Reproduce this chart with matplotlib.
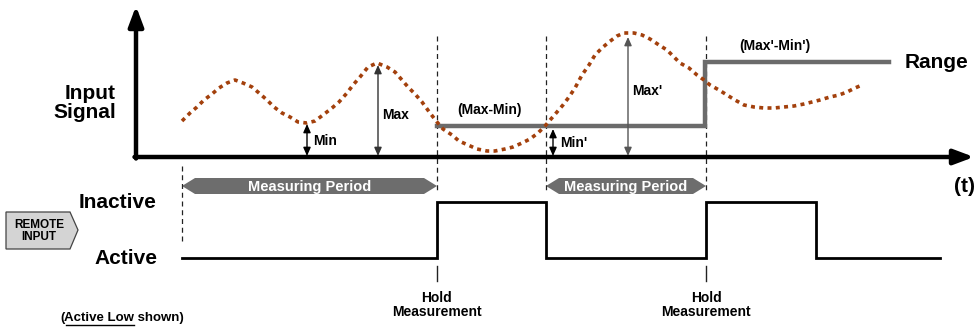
import matplotlib
matplotlib.use("Agg")
import matplotlib.pyplot as plt
from matplotlib.patches import Polygon

FONT = ['Liberation Sans Narrow', 'Liberation Sans', 'DejaVu Sans']
plt.rcParams['font.family'] = FONT
plt.rcParams['font.weight'] = 'bold'

# ---- data (diagram units: x = time, y = drawing height, origin top-left) ----
signal_x = [182, 190, 197, 204, 212, 219, 227, 235, 243, 252, 259, 267, 274, 282,
            290, 298, 307, 315, 323, 332, 339, 347, 353, 360, 368, 377, 387, 395,
            402, 408, 415, 422, 430, 437, 443, 452, 459, 468, 477, 487, 495, 505,
            513, 522, 530, 538, 545, 551, 557, 563, 569, 575, 582, 589, 595, 602,
            609, 617, 624, 634, 642, 650, 659, 667, 674, 680, 689, 697, 704, 710,
            719, 727, 735, 744, 754, 764, 774, 784, 794, 804, 812, 820, 830, 839,
            847, 855, 862]
signal_y = [121, 113, 107, 100, 94, 88, 83, 80, 83, 87, 93, 100, 107, 113,
            117, 122, 123, 121, 115, 108, 102, 93, 85, 77, 67, 63, 67, 72,
            80, 87, 94, 102, 113, 122, 129, 135, 141, 145, 149, 151, 151, 149,
            147, 143, 139, 133, 126, 119, 112, 105, 97, 88, 75, 65, 55, 48,
            42, 36, 33, 33, 35, 39, 45, 50, 57, 63, 68, 75, 80, 85,
            90, 95, 100, 105, 107, 108, 108, 107, 106, 104, 102, 100, 97, 95,
            92, 88, 85]

range_x = [437, 705, 705, 889]
range_y = [126, 126, 62, 62]

remote_x = [182, 437, 437, 546, 546, 706, 706, 816, 816, 940]
remote_level = ['Active', 'Active', 'Inactive', 'Inactive', 'Active', 'Active',
                'Inactive', 'Inactive', 'Active', 'Active']
level_y = {'Inactive': 202, 'Active': 258}

hold_times = [437, 706]
period_starts = [182, 546]
period_ends = [437, 706]

baseline = 157
min_mark = (307, 123, 'Min')
max_mark = (378, 63, 'Max')
min2_mark = (553, 128, "Min'")
max2_mark = (628, 34, "Max'")

# ---- figure ----
fig = plt.figure(figsize=(9.74, 3.30), dpi=100)
ax = fig.add_axes([0, 0, 1, 1])
ax.set_xlim(0, 974)
ax.set_ylim(330, 0)
ax.axis('off')

# axes with arrows
ax.annotate('', xy=(136, 6), xytext=(136, baseline + 1.5),
            arrowprops=dict(arrowstyle='-|>,head_length=1.2,head_width=0.45', lw=3.2,
                            color='black', shrinkA=0, shrinkB=0))
ax.annotate('', xy=(974, baseline), xytext=(134.5, baseline),
            arrowprops=dict(arrowstyle='-|>,head_length=1.2,head_width=0.45', lw=3.2,
                            color='black', shrinkA=0, shrinkB=0))

# dashed markers
for x in [437, 546, 706]:
    ax.plot([x, x], [36, 190], ls=(0, (4, 3)), lw=0.9, color='#222222')
ax.plot([182, 182], [166, 244], ls=(0, (4, 3)), lw=0.9, color='#222222')
for x in hold_times:
    ax.plot([x, x], [266, 281], lw=1.0, color='#222222')

# range step line
ax.plot(range_x, range_y, color='#6b6b6b', lw=3.2, solid_joinstyle='miter')

# signal (dotted)
ax.plot(signal_x, signal_y, color='#a3400c', lw=2.6, ls=(0, (1.1, 1.2)),
        dash_capstyle='butt')

# min / max arrows
def dbl_arrow(x, ytop, color):
    ax.annotate('', xy=(x, ytop), xytext=(x, baseline - 1),
                arrowprops=dict(arrowstyle='<|-|>,head_length=0.5,head_width=0.22',
                                lw=1.0, color=color, shrinkA=0, shrinkB=0))

dbl_arrow(min_mark[0], min_mark[1] + 1, 'black')
ax.text(min_mark[0] + 6, 141, min_mark[2], fontsize=10, va='center', ha='left')
dbl_arrow(max_mark[0], max_mark[1] + 2, '#333333')
ax.text(max_mark[0] + 4, 115, max_mark[2], fontsize=10, va='center', ha='left')
dbl_arrow(min2_mark[0], min2_mark[1] + 1, 'black')
ax.text(min2_mark[0] + 7, 143, min2_mark[2], fontsize=10, va='center', ha='left')
dbl_arrow(max2_mark[0], max2_mark[1] + 3, '#555555')
ax.text(max2_mark[0] + 4, 91, max2_mark[2], fontsize=10, va='center', ha='left')

ax.text(489, 110, '(Max-Min)', fontsize=10, ha='center', va='center')
ax.text(775, 46, "(Max'-Min')", fontsize=10, ha='center', va='center')

ax.text(116, 103, 'Input\nSignal', fontsize=15, ha='right', va='center',
        linespacing=1.05)
ax.text(905, 63, 'Range', fontsize=15, ha='left', va='center')
ax.text(975, 187, '(t)', fontsize=15, ha='right', va='center')

# measuring period arrows
for s, e in zip(period_starts, period_ends):
    yc, hh, hl = 186, 8, 13
    poly = Polygon([(s, yc), (s + hl, yc - hh), (e - hl, yc - hh), (e, yc),
                    (e - hl, yc + hh), (s + hl, yc + hh)], closed=True,
                   facecolor='#6d6d6d', edgecolor='none')
    ax.add_patch(poly)
    ax.text((s + e) / 2, yc + 0.5, 'Measuring Period', color='white', fontsize=10.5,
            ha='center', va='center')

# remote input square wave
ax.plot(remote_x, [level_y[l] for l in remote_level], color='black', lw=2.0,
        solid_joinstyle='miter')
ax.text(157, 202, 'Inactive', fontsize=15, ha='right', va='center')
ax.text(157, 258, 'Active', fontsize=15, ha='right', va='center')

# remote input tag
tag = Polygon([(6, 212), (70, 212), (78, 230), (70, 249), (6, 249)], closed=True,
              facecolor='#d4d4d4', edgecolor='#444444', lw=0.9)
ax.add_patch(tag)
ax.text(39, 230.5, 'REMOTE\nINPUT', fontsize=8.5, ha='center', va='center',
        linespacing=1.0)

# hold labels
for x in hold_times:
    ax.text(x, 305, 'Hold\nMeasurement', fontsize=10, ha='center', va='center',
            linespacing=1.05)

# active low note
t1 = ax.text(60, 318, '(', fontsize=9.5, ha='left', va='center')
fig.canvas.draw()
r = fig.canvas.get_renderer()
bb = t1.get_window_extent(r)
inv = ax.transData.inverted()
x1 = inv.transform((bb.x1, 0))[0]
t2 = ax.text(x1, 318, 'Active Low', fontsize=9.5, ha='left', va='center')
bb2 = t2.get_window_extent(r)
x2 = inv.transform((bb2.x1, 0))[0]
ax.plot([x1 + 2.0, x2 - 0.5], [324.5, 324.5], color='black', lw=1.0)
ax.text(x2, 318, ' shown)', fontsize=9.5, ha='left', va='center')

fig.savefig('out.png', dpi=100)
